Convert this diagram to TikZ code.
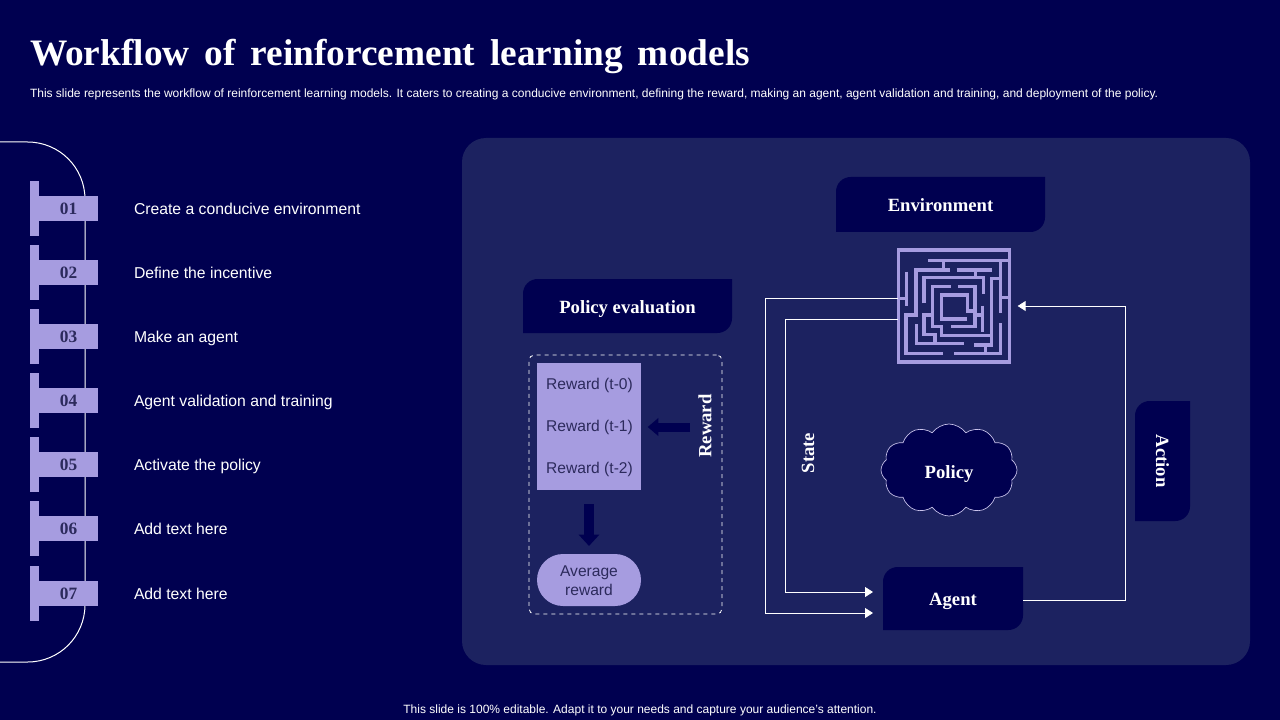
\documentclass[tikz,border=0pt]{standalone}
\usepackage{fontspec}
\setmainfont{Liberation Serif}
\setsansfont{Liberation Sans}
\usetikzlibrary{positioning, arrows.meta, shapes.symbols}
\definecolor{navy}{HTML}{000050}
\definecolor{panelblue}{HTML}{1C2260}
\definecolor{lav}{HTML}{A69CE0}
\definecolor{inkdark}{HTML}{2C2A5C}

\begin{document}
\begin{tikzpicture}[
  x=0.75pt, y=-0.75pt, outer sep=0pt,
  head/.style={font=\bfseries\fontsize{14}{16}\selectfont, text=white, inner sep=0pt},
  tab/.style={head, minimum width=156.75pt, minimum height=41.25pt, text height=10.6pt, text depth=0pt,
    path picture={\fill[navy] (path picture bounding box.north east)
      [rounded corners=11pt] -- (path picture bounding box.north west)
      [sharp corners] -- (path picture bounding box.south west)
      [rounded corners=11pt] -- (path picture bounding box.south east)
      [sharp corners] -- (path picture bounding box.north east) -- cycle;}},
  bar/.style={fill=lav, minimum width=6.75pt, minimum height=41.25pt, inner sep=0pt},
  flag/.style={fill=lav, minimum width=44.25pt, minimum height=18.75pt, inner sep=0pt,
    text=inkdark, font=\bfseries\fontsize{13}{15}\selectfont},
  item/.style={font=\sffamily\fontsize{11.8}{14}\selectfont, text=white, inner sep=0pt, text height=12pt, text depth=3pt},
  rew/.style={font=\sffamily\fontsize{11.7}{14}\selectfont, text=inkdark, inner sep=0pt},
  small/.style={font=\sffamily\fontsize{9}{11}\selectfont, text=white, inner sep=0pt, anchor=west},
  wall/.style={draw=lav, line width=2.7pt},
  arr/.style={-{Triangle[length=6pt,width=7.5pt]}, draw=white, line width=0.7pt},
  fat/.style={draw=navy, -{Triangle[length=8.5pt,width=15pt]}, line width=7.5pt}]
  \useasboundingbox (0,0) rectangle (1280,720);
  \fill[navy] (0,0) rectangle (1280,720);
  % heading
  \node[anchor=west, text=white, inner sep=0pt, font=\bfseries\fontsize{28}{30}\selectfont] (ttl) at (30,56) {\spaceskip=11.2pt Workflow of reinforcement learning models};
  \node[small] (sub) at (30,94) {This slide represents the workflow of reinforcement learning models. It caters to creating a conducive environment, defining the reward, making an agent, agent validation and training, and deployment of the policy.};
  \node[small, anchor=center] (foot) at (640,710) {This slide is 100\% editable. Adapt it to your needs and capture your audience's attention.};
  % left list
  \draw[white, line width=0.75pt, rounded corners=43pt] (-5,142) -- (85,142) -- (85,662) -- (-5,662);
  \node[bar] (b1) at (34.5,208.5) {};
  \node[flag, right=0pt of b1] (f1) {01};
  \node[item, right=27pt of f1] (t1) {Create a conducive environment};
  \node[bar, below=6.75pt of b1] (b2) {};
  \node[flag, right=0pt of b2] (f2) {02};
  \node[item, right=27pt of f2] (t2) {Define the incentive};
  \node[bar, below=6.75pt of b2] (b3) {};
  \node[flag, right=0pt of b3] (f3) {03};
  \node[item, right=27pt of f3] (t3) {Make an agent};
  \node[bar, below=6.75pt of b3] (b4) {};
  \node[flag, right=0pt of b4] (f4) {04};
  \node[item, right=27pt of f4] (t4) {Agent validation and training};
  \node[bar, below=6.75pt of b4] (b5) {};
  \node[flag, right=0pt of b5] (f5) {05};
  \node[item, right=27pt of f5] (t5) {Activate the policy};
  \node[bar, below=6.75pt of b5] (b6) {};
  \node[flag, right=0pt of b6] (f6) {06};
  \node[item, right=27pt of f6] (t6) {Add text here};
  \node[bar, below=7.5pt of b6] (b7) {};
  \node[flag, right=0pt of b7] (f7) {07};
  \node[item, right=27pt of f7] (t7) {Add text here};
  % panel
  \node[fill=panelblue, rounded corners=18pt, minimum width=591pt, minimum height=395.25pt, inner sep=0pt] (pn) at (856,401.5) {};
  \node[tab] (env) at (940.5,204.5) {Environment};
  \node[tab, minimum height=40.5pt, text height=11.2pt] (pe) at (627.5,306) {Policy evaluation};
  \node[tab, minimum width=105pt, minimum height=47.25pt] (ag) at (953,598.5) {Agent};
  \node[tab, rotate=-90, minimum width=90pt, minimum height=41.25pt, text height=9.6pt] (ac) at (1162.5,461) {Action};
  \node[head, rotate=90] (st) at (808,453) {State};
  \node[cloud, cloud puffs=12, cloud puff arc=110, aspect=1.45, draw=lav!60, fill=navy, line width=0.5pt, head,
    text height=12.4pt, text depth=0pt, minimum width=102pt, minimum height=69pt] (pol) at (949,470) {Policy};
  % maze
  \node[draw=lav, line width=2.7pt, minimum width=83.5pt, minimum height=84pt, inner sep=0pt] (mz) at (954,306) {};
  \begin{scope}[shift={(880,235)}, x=0.25pt, y=-0.25pt]
    \draw[wall] (145,77) -- (385,77) (190,77) -- (190,105);
    \draw[wall] (210,105) -- (108,105) -- (108,240) -- (78,240) -- (78,355) -- (188,355);
    \draw[wall] (230,105) -- (335,105) (287,105) -- (287,128);
    \draw[wall] (132,205) -- (132,128) -- (310,128) -- (310,178);
    \draw[wall] (80,110) -- (80,213) (55,190) -- (80,190);
    \draw[wall] (362,77) -- (362,235) (362,187) -- (388,187);
    \draw[wall] (362,265) -- (362,355) -- (222,355) (317,330) -- (317,355);
    \draw[wall] (282,330) -- (335,330) -- (335,130) -- (358,130);
    \draw[wall] (110,268) -- (110,325) -- (252,325);
    \draw[wall] (155,240) -- (132,240) -- (132,298) -- (165,298) -- (165,325);
    \draw[wall] (212,155) -- (158,155) -- (158,275) -- (185,275) -- (185,302) -- (330,302);
    \draw[wall] (235,155) -- (285,155) -- (285,275) -- (212,275);
    \draw[wall] (285,240) -- (308,240) (308,212) -- (308,290);
    \draw[wall] (262,252) -- (185,252) -- (185,180) -- (262,180) -- (262,228) -- (282,228);
  \end{scope}
  % loop arrows
  \coordinate (m1) at (898,298);
  \coordinate (m2) at (898,319);
  \coordinate (a1) at (883,613);
  \coordinate (a2) at (883,592);
  \coordinate (m3) at (1011,306);
  \coordinate (a3) at (1023,600);
  \draw[arr, shorten >=7.5pt] (m1) -- (765,298) -- (765,613) -- (a1);
  \draw[arr, shorten >=7.5pt] (m2) -- (785,319) -- (785,592) -- (a2);
  \draw[arr, shorten >=5pt] (a3) -- (1125,600) -- (1125,306) -- (m3);
  % reward part
  \node[draw=white, dashed, line width=0.6pt, rounded corners=4pt, minimum width=144.75pt, minimum height=194.25pt, inner sep=0pt] (dsh) at (625.5,484.5) {};
  \node[fill=lav, minimum width=78pt, minimum height=95.25pt, inner sep=0pt] (rb) at (589,426.5) {};
  \node[rew] (r0) at (589.5,385) {Reward (t-0)};
  \node[rew, below=31.5pt of r0.center, anchor=center] (r1) {Reward (t-1)};
  \node[rew, below=31.5pt of r1.center, anchor=center] (r2) {Reward (t-2)};
  \node[fill=lav, rounded corners=19.5pt, minimum width=78pt, minimum height=39pt, inner sep=0pt, align=center,
    font=\sffamily\fontsize{11.7}{14.2}\selectfont, text=inkdark] (avg) at (589,580) {\rule{0pt}{9.6pt}Average\\reward};
  \node[head, rotate=90] (rl) at (705,426) {Reward};
  \coordinate (rs) at (690,427);
  \draw[fat, line width=6.75pt, -{Triangle[length=8pt,width=13pt]}, shorten >=5pt] (rs) -- (rb.east |- rs);
  \draw[fat, shorten <=10.5pt, shorten >=6pt] (rb.south) -- (avg.north);
\end{tikzpicture}
\end{document}
